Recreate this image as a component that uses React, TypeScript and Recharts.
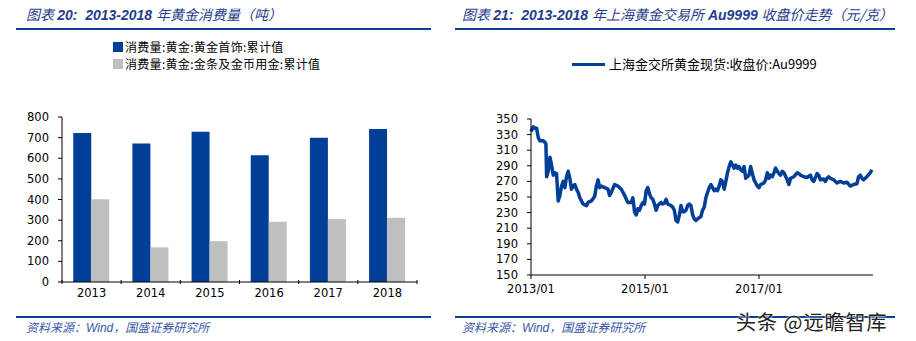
import React from 'react';
import {
  BarChart, Bar, LineChart, Line, XAxis, YAxis, Legend,
} from 'recharts';

// 图表 20: gold consumption (tonnes)
const years = ['2013', '2014', '2015', '2016', '2017', '2018'];
const jewelry = [723, 672, 729, 614, 700, 742];
const barsCoins = [401, 168, 198, 292, 305, 311];
const barTicks = [0, 100, 200, 300, 400, 500, 600, 700, 800];

// 图表 21: SGE Au9999 close (CNY/g), time as decimal year
const priceTime = [
  2013.000, 2013.041, 2013.070, 2013.099, 2013.128, 2013.157, 2013.215, 2013.245, 2013.262, 2013.274,
  2013.303, 2013.332, 2013.361, 2013.390, 2013.419, 2013.448, 2013.477, 2013.507, 2013.536, 2013.565,
  2013.594, 2013.623, 2013.652, 2013.681, 2013.710, 2013.739, 2013.769, 2013.798, 2013.827, 2013.856,
  2013.914, 2013.972, 2014.001, 2014.060, 2014.118, 2014.147, 2014.176, 2014.205, 2014.234, 2014.293,
  2014.351, 2014.380, 2014.409, 2014.467, 2014.525, 2014.584, 2014.642, 2014.700, 2014.758, 2014.787,
  2014.817, 2014.846, 2014.875, 2014.904, 2014.933, 2014.962, 2014.991, 2015.020, 2015.050, 2015.079,
  2015.108, 2015.137, 2015.166, 2015.195, 2015.224, 2015.282, 2015.311, 2015.341, 2015.370, 2015.399,
  2015.457, 2015.486, 2015.515, 2015.544, 2015.574, 2015.603, 2015.632, 2015.661, 2015.690, 2015.719,
  2015.748, 2015.777, 2015.806, 2015.836, 2015.865, 2015.894, 2015.923, 2015.981, 2016.010, 2016.039,
  2016.068, 2016.098, 2016.127, 2016.156, 2016.185, 2016.214, 2016.243, 2016.272, 2016.301, 2016.330,
  2016.359, 2016.389, 2016.418, 2016.447, 2016.476, 2016.505, 2016.534, 2016.563, 2016.592, 2016.622,
  2016.651, 2016.680, 2016.709, 2016.738, 2016.767, 2016.796, 2016.825, 2016.854, 2016.884, 2016.913,
  2016.942, 2016.971, 2017.000, 2017.029, 2017.087, 2017.116, 2017.146, 2017.175, 2017.204, 2017.233,
  2017.262, 2017.291, 2017.320, 2017.349, 2017.378, 2017.408, 2017.437, 2017.495, 2017.524, 2017.553,
  2017.611, 2017.670, 2017.699, 2017.728, 2017.786, 2017.844, 2017.902, 2017.932, 2017.961, 2018.019,
  2018.048, 2018.077, 2018.135, 2018.164, 2018.194, 2018.223, 2018.252, 2018.310, 2018.368, 2018.427,
  2018.485, 2018.543, 2018.601, 2018.659, 2018.718, 2018.747, 2018.776, 2018.805, 2018.834, 2018.892,
  2018.951, 2018.980,
];
const priceClose = [
  334, 340, 338, 338, 326, 322, 322, 320, 318, 276,
  283, 301, 291, 278, 281, 280, 245, 252, 264, 270,
  262, 276, 283, 274, 260, 264, 266, 260, 256, 249,
  241, 239, 243, 245, 251, 264, 272, 262, 264, 262,
  260, 252, 256, 266, 264, 260, 252, 243, 243, 249,
  231, 227, 235, 233, 239, 243, 241, 258, 262, 254,
  249, 247, 241, 233, 239, 243, 241, 242, 247, 241,
  239, 237, 233, 220, 218, 227, 239, 231, 231, 233,
  239, 241, 239, 227, 222, 220, 222, 225, 233, 237,
  249, 256, 262, 266, 262, 258, 260, 258, 264, 272,
  270, 260, 270, 281, 289, 295, 291, 287, 291, 287,
  289, 285, 283, 289, 274, 276, 278, 289, 280, 272,
  268, 264, 262, 266, 268, 272, 281, 274, 278, 276,
  281, 287, 283, 280, 278, 283, 281, 272, 266, 274,
  276, 281, 280, 278, 276, 275, 278, 272, 270, 280,
  278, 272, 273, 270, 274, 276, 274, 272, 268, 270,
  268, 269, 264, 266, 267, 276, 278, 274, 272, 276,
  281, 285,
];

const BLUE = '#003f98';
const GREY = '#bfbfbf';
const TITLE = '#1f3d8c';
const TICK_FONT = "'DejaVu Sans', Verdana, sans-serif";
const CJK = "'Noto Sans CJK SC', sans-serif";
const LATIN = "'Liberation Sans', sans-serif";

const barData = years.map((y, i) => ({ year: y, jewelry: jewelry[i], bars: barsCoins[i] }));
const priceData = priceTime.map((t, i) => ({ t, close: priceClose[i] }));
const barOrder = ['jewelry', 'bars'];

function BandTick(props: any) {
  const { x, y, payload, index, visibleTicksCount } = props;
  const half = payload.offset ?? 29.6;
  const last = index === visibleTicksCount - 1;
  return (
    <g>
      <line x1={x - half} x2={x - half} y1={y - 10} y2={y - 6} stroke="#000" />
      {last && <line x1={x + half} x2={x + half} y1={y - 10} y2={y - 6} stroke="#000" />}
      <text x={x} y={y + 7} textAnchor="middle" fontFamily={TICK_FONT} fontSize={11.5} fill="#000">
        {payload.value}
      </text>
    </g>
  );
}

function BarLegend({ payload }: any) {
  const items = [...(payload || [])].sort(
    (a: any, b: any) => barOrder.indexOf(a.dataKey) - barOrder.indexOf(b.dataKey),
  );
  return (
    <div style={{ fontFamily: CJK, fontSize: 12, color: '#000' }}>
      {items.map((p: any) => (
        <div key={p.value} style={{ display: 'flex', alignItems: 'center', height: 17, lineHeight: '17px' }}>
          <span style={{ width: 10, height: 10, background: p.color, display: 'inline-block', marginRight: 2 }} />
          <span style={{ letterSpacing: 0.3 }}>{p.value}</span>
        </div>
      ))}
    </div>
  );
}

function LineLegend({ payload }: any) {
  return (
    <div style={{ fontFamily: CJK, fontSize: 13, color: '#000' }}>
      {(payload || []).map((p: any) => (
        <div key={p.value} style={{ display: 'flex', alignItems: 'center', height: 16, lineHeight: '16px' }}>
          <span style={{ width: 33, height: 3, background: p.color, display: 'inline-block', marginRight: 4 }} />
          <span>{p.value}</span>
        </div>
      ))}
    </div>
  );
}

function Title({ num, pre, mid, post, left, top }: any) {
  return (
    <div style={{ position: 'absolute', left, top, color: TITLE, fontStyle: 'italic', fontSize: 14, whiteSpace: 'nowrap', lineHeight: '18px' }}>
      <span style={{ fontFamily: CJK }}>图表 </span>
      <span style={{ fontFamily: LATIN, fontWeight: 'bold' }}>{num}:&nbsp;&nbsp;2013-2018 </span>
      <span style={{ fontFamily: CJK }}>{pre}</span>
      {mid && <span style={{ fontFamily: LATIN, fontWeight: 'bold' }}> {mid} </span>}
      <span style={{ fontFamily: CJK }}>{post}</span>
    </div>
  );
}

function Source({ left }: { left: number }) {
  return (
    <div style={{ position: 'absolute', left, top: 318, color: '#3a56a8', fontStyle: 'italic', fontSize: 12, whiteSpace: 'nowrap' }}>
      <span style={{ fontFamily: CJK }}>资料来源：</span>
      <span style={{ fontFamily: LATIN }}>Wind</span>
      <span style={{ fontFamily: CJK }}>，国盛证券研究所</span>
    </div>
  );
}

export default function App() {
  return (
    <div style={{ position: 'absolute', left: 0, top: 0, width: 916, height: 341, background: '#fff', overflow: 'hidden' }}>
      <Title num="20" pre="年黄金消费量（吨）" left={26} top={5} />
      <Title num="21" pre="年上海黄金交易所" mid="Au9999" post="收盘价走势（元/克）" left={462} top={5} />
      <div style={{ position: 'absolute', left: 16, top: 28, width: 415, height: 2, background: '#0b3f94' }} />
      <div style={{ position: 'absolute', left: 455, top: 28, width: 440, height: 2, background: '#0b3f94' }} />

      <div style={{ position: 'absolute', left: 0, top: 38 }}>
        <BarChart width={440} height={272} data={barData} margin={{ top: 45, right: 23, bottom: 0, left: 0 }}
          barCategoryGap="19%" barGap={0}>
          <XAxis dataKey="year" axisLine={{ stroke: '#000' }} tickLine={false} tick={<BandTick />} height={28} interval={0} />
          <YAxis domain={[0, 800]} ticks={barTicks} width={62} axisLine={{ stroke: '#000' }}
            tickLine={{ stroke: '#000' }} tickSize={4} tickMargin={9}
            tick={{ fontFamily: TICK_FONT, fontSize: 11.5, fill: '#000' }} />
          <Legend verticalAlign="top" content={<BarLegend />}
            wrapperStyle={{ left: 113, top: 0, width: 320 }} />
          <Bar dataKey="jewelry" name="消费量:黄金:黄金首饰:累计值" fill={BLUE} isAnimationActive={false} />
          <Bar dataKey="bars" name="消费量:黄金:金条及金币用金:累计值" fill={GREY} isAnimationActive={false} />
        </BarChart>
      </div>

      <div style={{ position: 'absolute', left: 455, top: 50 }}>
        <LineChart width={461} height={260} data={priceData} margin={{ top: 53, right: 43, bottom: 0, left: 0 }}>
          <XAxis dataKey="t" type="number" domain={[2013, 2019]} ticks={[2013, 2015, 2017]}
            tickFormatter={(v: number) => `${v}/01`} axisLine={{ stroke: '#000' }}
            tickLine={{ stroke: '#000' }} tickSize={4} tickMargin={6} height={35}
            tick={{ fontFamily: TICK_FONT, fontSize: 11.5, fill: '#000' }} />
          <YAxis domain={[150, 350]} ticks={[150, 170, 190, 210, 230, 250, 270, 290, 310, 330, 350]}
            width={76} axisLine={{ stroke: '#000' }} tickLine={{ stroke: '#000' }} tickSize={4} tickMargin={9}
            tick={{ fontFamily: TICK_FONT, fontSize: 11.5, fill: '#000' }} interval={0} />
          <Legend verticalAlign="top" content={<LineLegend />} wrapperStyle={{ left: 117, top: 6, width: 300 }} />
          <Line type="linear" dataKey="close" name="上海金交所黄金现货:收盘价:Au9999" stroke={BLUE}
            strokeWidth={3.5} dot={false} strokeLinejoin="round" isAnimationActive={false} />
        </LineChart>
      </div>

      <div style={{ position: 'absolute', left: 16, top: 316, width: 415, height: 2, background: '#0b3f94' }} />
      <div style={{ position: 'absolute', left: 455, top: 316, width: 440, height: 2, background: '#0b3f94' }} />
      <Source left={26} />
      <Source left={462} />
      <div style={{
        position: 'absolute', left: 736, top: 307, fontFamily: CJK, fontSize: 20, color: '#222',
        letterSpacing: 1, whiteSpace: 'nowrap', textShadow: '0 0 2px #fff, 0 0 2px #fff',
      }}>
        头条 @远瞻智库
      </div>
    </div>
  );
}
